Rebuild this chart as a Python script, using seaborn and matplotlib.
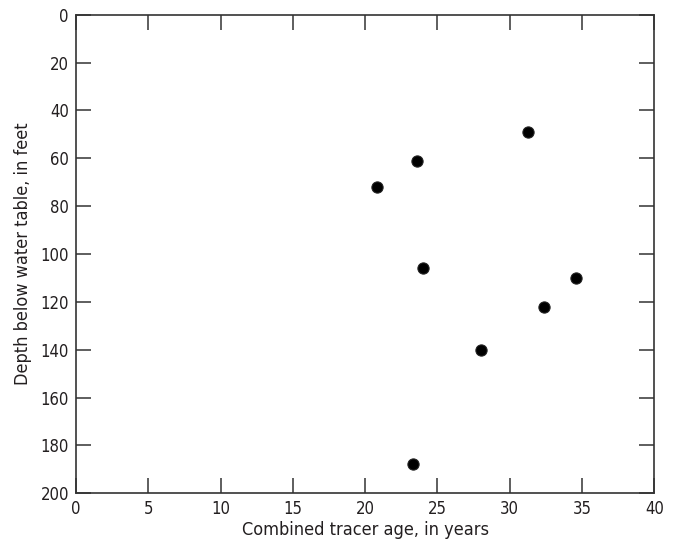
import matplotlib
matplotlib.use("Agg")
import matplotlib.pyplot as plt
import seaborn as sns
import pandas as pd
from matplotlib import font_manager

age_years = [31.3, 23.6, 20.8, 24.0, 34.6, 32.4, 28.0, 23.3]
depth_feet = [49, 61, 72, 106, 110, 122, 140, 188]
x_ticks = [0, 5, 10, 15, 20, 25, 30, 35, 40]
y_ticks = [0, 20, 40, 60, 80, 100, 120, 140, 160, 180, 200]

sns.set_theme(style="white")
names = sorted({(f.name, f.stretch) for f in font_manager.fontManager.ttflist})
print(names)
plt.rcParams["font.family"] = ["DejaVu Sans"]
plt.rcParams["font.stretch"] = "condensed"

df = pd.DataFrame({"age": age_years, "depth": depth_feet})

fig = plt.figure(figsize=(6.78, 5.48), dpi=100)
ax = fig.add_axes([0.112, 0.100, 0.853, 0.873])
sns.scatterplot(data=df, x="age", y="depth", ax=ax, s=65, color="black",
                edgecolor="#222222", linewidth=0.8, zorder=3)

ax.set_xlim(0, 40)
ax.set_ylim(200, 0)
ax.set_xticks(x_ticks)
ax.set_yticks(y_ticks)
ax.set_xlabel("Combined tracer age, in years", fontsize=13, color="#231f20", labelpad=2)
ax.set_ylabel("Depth below water table, in feet", fontsize=13, color="#231f20", labelpad=6)
ax.tick_params(direction="in", length=11, width=1.1, color="#333333",
               top=True, right=True, bottom=True, left=True,
               labelsize=12, labelcolor="#231f20", pad=5)
for sp in ax.spines.values():
    sp.set_visible(True)
    sp.set_color("#333333")
    sp.set_linewidth(1.2)

fig.savefig("out.png", dpi=100)
